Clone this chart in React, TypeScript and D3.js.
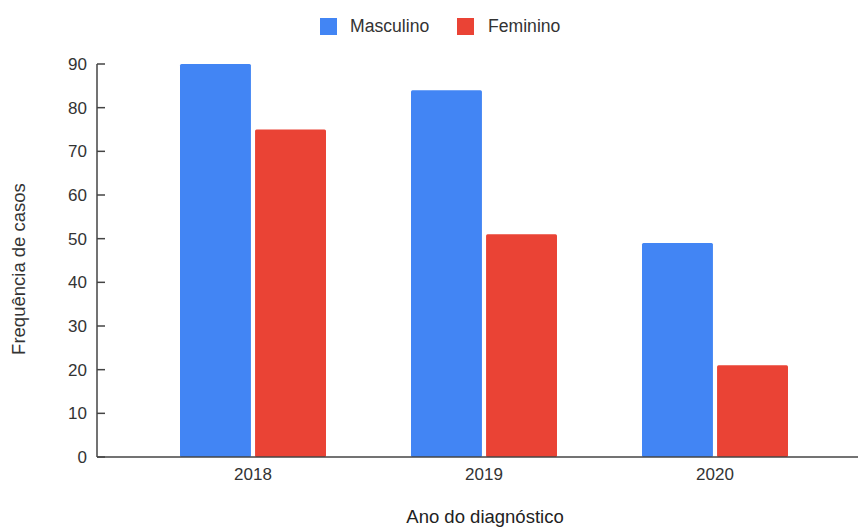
import React from "react";
import * as d3 from "d3";

const categories = ["2018", "2019", "2020"];
const seriesNames = ["Masculino", "Feminino"];
const masculino = [90, 84, 49];
const feminino = [75, 51, 21];
const yTicks = [0, 10, 20, 30, 40, 50, 60, 70, 80, 90];
const colors = ["#4285F4", "#EA4335"];

const W = 858;
const H = 530;
const FONT = "'Liberation Sans', Arial, sans-serif";

export default function App() {
  const x0 = d3.scaleBand<string>().domain(categories).range([137.5, 830.5]).paddingInner(0.368).paddingOuter(0.184);
  const x1 = d3.scaleBand<string>().domain(seriesNames).range([0, x0.bandwidth()]).paddingInner(0.055);
  const y = d3.scaleLinear().domain([0, 90]).range([457, 64]);
  const values = [masculino, feminino];
  const axisColor = "#444";

  return (
    <svg width={W} height={H} style={{ position: "absolute", left: 0, top: 0, background: "#fff" }} fontFamily={FONT}>
      <rect width={W} height={H} fill="#fff" />
      {/* Legend */}
      <g>
        <rect x={320} y={18} width={17} height={17} fill={colors[0]} />
        <text x={350} y={32} fontSize={17.6} fill="#333">{seriesNames[0]}</text>
        <rect x={457} y={18} width={17} height={17} fill={colors[1]} />
        <text x={488} y={32} fontSize={17.6} fill="#333">{seriesNames[1]}</text>
      </g>
      {/* Bars */}
      {categories.map((c, i) => (
        <g key={c} transform={`translate(${x0(c)},0)`}>
          {seriesNames.map((s, j) => (
            <rect key={s} x={x1(s)} y={y(values[j][i])} width={x1.bandwidth()} height={y(0) - y(values[j][i])} fill={colors[j]} rx={1.5} />
          ))}
        </g>
      ))}
      {/* Y axis */}
      <line x1={97} x2={97} y1={y(90)} y2={y(0)} stroke={axisColor} strokeWidth={1.5} />
      {yTicks.map((t) => (
        <g key={t}>
          <line x1={97} x2={105} y1={y(t)} y2={y(t)} stroke={axisColor} strokeWidth={1.5} />
          <text x={87} y={y(t)} dy="0.35em" textAnchor="end" fontSize={17} fill="#333">{t}</text>
        </g>
      ))}
      {/* X axis */}
      <line x1={97} x2={858} y1={y(0)} y2={y(0)} stroke={axisColor} strokeWidth={1.5} />
      {categories.map((c) => (
        <text key={c} x={(x0(c) as number) + x0.bandwidth() / 2} y={480} textAnchor="middle" fontSize={17} fill="#333">{c}</text>
      ))}
      <text x={485} y={523} textAnchor="middle" fontSize={18.5} fill="#222">Ano do diagnóstico</text>
      <text transform={`translate(25,269) rotate(-90)`} textAnchor="middle" fontSize={18.5} fill="#333">Frequência de casos</text>
    </svg>
  );
}
